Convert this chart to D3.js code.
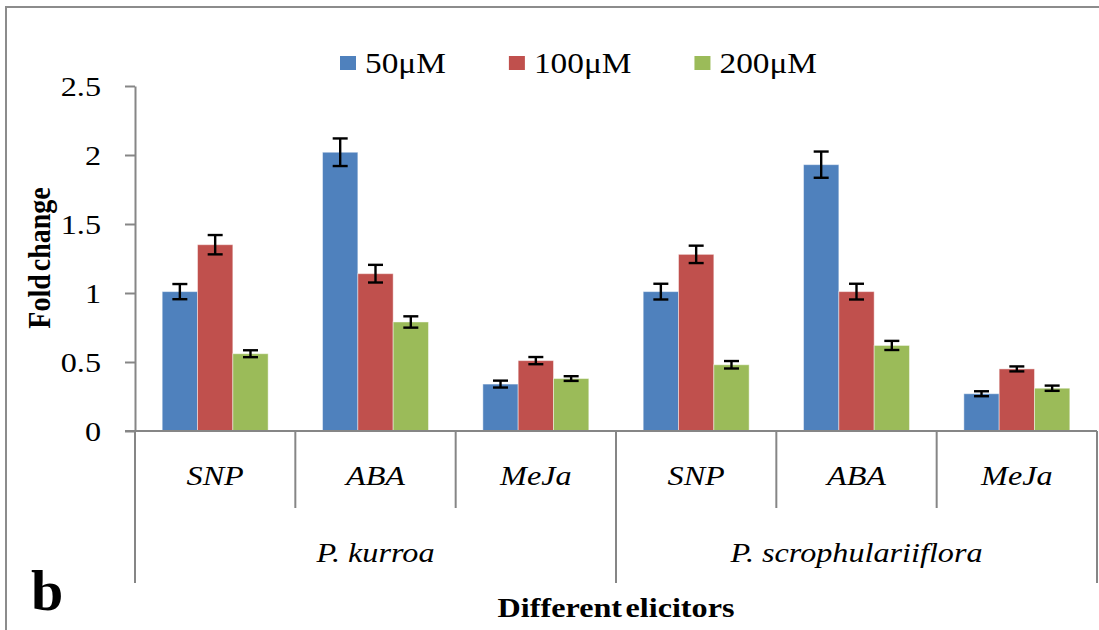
<!DOCTYPE html>
<html>
<head>
<meta charset="utf-8">
<script src="https://cdn.jsdelivr.net/npm/d3@7"></script>
<style>
  html, body { margin: 0; padding: 0; background: #fff; }
  svg text { font-family: "Liberation Serif", "Times New Roman", Times, serif; }
</style>
</head>
<body>
<svg id="chart" width="1099" height="630"></svg>
<script>
// ---- data ----
const species = ["P. kurroa", "P. scrophulariiflora"];
const elicitors = ["SNP", "ABA", "MeJa"];
const seriesNames = ["50μM", "100μM", "200μM"];
const values50  = [1.01, 2.02, 0.34, 1.01, 1.93, 0.27];
const values100 = [1.35, 1.14, 0.51, 1.28, 1.01, 0.45];
const values200 = [0.56, 0.79, 0.38, 0.48, 0.62, 0.31];
const err50  = [0.055, 0.10, 0.025, 0.057, 0.095, 0.018];
const err100 = [0.070, 0.064, 0.026, 0.063, 0.057, 0.018];
const err200 = [0.025, 0.041, 0.017, 0.027, 0.033, 0.019];
const yTicks = [0, 0.5, 1, 1.5, 2, 2.5];
const yTickLabels = ["0", "0.5", "1", "1.5", "2", "2.5"];
const yTitle = "Fold change";
const xTitle = "Different elicitors";
const panelLabel = "b";

// ---- layout ----
(function () {
const FONT = "'Liberation Serif', 'Times New Roman', Times, serif";
const colors = ["#4F81BD", "#C0504D", "#9BBB59"];
const SX = 1.15; // horizontal text stretch seen in the reference
const plotLeft = 135, plotRight = 1097, plotTop = 86, plotBase = 431;
const svg = d3.select("#chart");

const groups = [];
species.forEach((s, si) => elicitors.forEach((e, ei) => groups.push({key: si + "-" + ei, species: s, si, elicitor: e, idx: si * elicitors.length + ei})));
const seriesVals = [values50, values100, values200];
const seriesErr = [err50, err100, err200];

const x0 = d3.scaleBand().domain(groups.map(g => g.key)).range([plotLeft, plotRight]).paddingInner(0).paddingOuter(0);
const x1 = d3.scaleBand().domain(seriesNames).range([0, x0.bandwidth()]).paddingInner(0).paddingOuter(0.77);
const y = d3.scaleLinear().domain([0, 2.5]).range([plotBase, plotTop]);

// border (left & top)
svg.append("path").attr("d", "M6,630V7H1099").attr("fill", "none").attr("stroke", "#8c8c8c").attr("stroke-width", 2);

function stretchedText(g, x, yy, str, opts = {}) {
  return g.append("text")
    .attr("transform", `translate(${x},${yy}) scale(${SX},1)`)
    .attr("text-anchor", opts.anchor || "middle")
    .attr("font-family", FONT)
    .attr("font-size", opts.size || 28)
    .attr("font-style", opts.italic ? "italic" : "normal")
    .attr("font-weight", opts.bold ? "bold" : "normal")
    .attr("fill", "#000")
    .text(str);
}

// y axis
const yAxis = d3.axisLeft(y).tickValues(yTicks).tickFormat((d, i) => yTickLabels[i]).tickSize(10).tickSizeOuter(0);
const ya = svg.append("g").attr("transform", `translate(${plotLeft},0)`).call(yAxis).attr("font-family", FONT);
ya.select(".domain").attr("stroke", "#868686").attr("stroke-width", 2);
ya.selectAll(".tick line").attr("stroke", "#868686").attr("stroke-width", 2);
ya.selectAll(".tick text")
  .attr("x", -34 / SX).attr("dy", "0.34em")
  .attr("transform", `scale(${SX},1)`)
  .attr("font-size", 28).attr("font-family", FONT).attr("fill", "#000");

// bars
const gBars = svg.append("g");
groups.forEach(g => {
  seriesNames.forEach((s, k) => {
    const v = seriesVals[k][g.idx];
    gBars.append("rect")
      .attr("x", x0(g.key) + x1(s))
      .attr("y", y(v))
      .attr("width", x1.bandwidth())
      .attr("height", y(0) - y(v))
      .attr("fill", colors[k])
      .attr("stroke", "rgba(255,255,255,0.45)")
      .attr("stroke-width", 1);
  });
});

// error bars
const gErr = svg.append("g").attr("stroke", "#000").attr("stroke-width", 2.4);
groups.forEach(g => {
  seriesNames.forEach((s, k) => {
    const v = seriesVals[k][g.idx], e = seriesErr[k][g.idx];
    const cx = x0(g.key) + x1(s) + x1.bandwidth() / 2;
    gErr.append("line").attr("x1", cx).attr("x2", cx).attr("y1", y(v + e)).attr("y2", y(v - e));
    gErr.append("line").attr("x1", cx - 7.5).attr("x2", cx + 7.5).attr("y1", y(v + e)).attr("y2", y(v + e));
    gErr.append("line").attr("x1", cx - 7.5).attr("x2", cx + 7.5).attr("y1", y(v - e)).attr("y2", y(v - e));
  });
});

// x axis and category dividers
const gx = svg.append("g").attr("stroke", "#868686").attr("stroke-width", 2);
gx.append("line").attr("x1", plotLeft - 10).attr("x2", plotRight).attr("y1", plotBase).attr("y2", plotBase);
groups.forEach((g, i) => {
  const xx = x0(g.key);
  const isSpeciesEdge = i % elicitors.length === 0;
  gx.append("line").attr("x1", xx).attr("x2", xx).attr("y1", plotBase).attr("y2", isSpeciesEdge ? 583 : 508);
});
gx.append("line").attr("x1", plotRight).attr("x2", plotRight).attr("y1", plotBase).attr("y2", 583);

// category labels
const gLab = svg.append("g");
groups.forEach(g => {
  stretchedText(gLab, x0(g.key) + x0.bandwidth() / 2, 485, g.elicitor, {italic: true});
});
species.forEach((s, si) => {
  const first = groups[si * elicitors.length], last = groups[si * elicitors.length + elicitors.length - 1];
  const cx = (x0(first.key) + x0(last.key) + x0.bandwidth()) / 2;
  stretchedText(gLab, cx, 562, s, {italic: true});
});

// axis titles
stretchedText(svg, (plotLeft + plotRight) / 2, 617, xTitle, {bold: true}).attr("word-spacing", "-4px");
svg.append("text")
  .attr("transform", `translate(50,258) scale(${SX},1) rotate(-90)`)
  .attr("text-anchor", "middle").attr("font-family", FONT).attr("font-size", 28).attr("font-weight", "bold")
  .attr("word-spacing", "-4px")
  .text(yTitle);

// panel label
svg.append("text").attr("x", 31).attr("y", 610).attr("font-family", FONT).attr("font-size", 58).attr("font-weight", "bold").text(panelLabel);

// legend
const gLeg = svg.append("g");
let lx = 340;
seriesNames.forEach((s, k) => {
  gLeg.append("rect").attr("x", lx).attr("y", 56).attr("width", 16).attr("height", 14).attr("fill", colors[k]);
  const t = stretchedText(gLeg, lx + 25, 73, s, {anchor: "start", size: 29});
  const w = t.node().getComputedTextLength() * SX;
  lx = lx + 25 + w + 63;
});
})();
</script>
</body>
</html>
